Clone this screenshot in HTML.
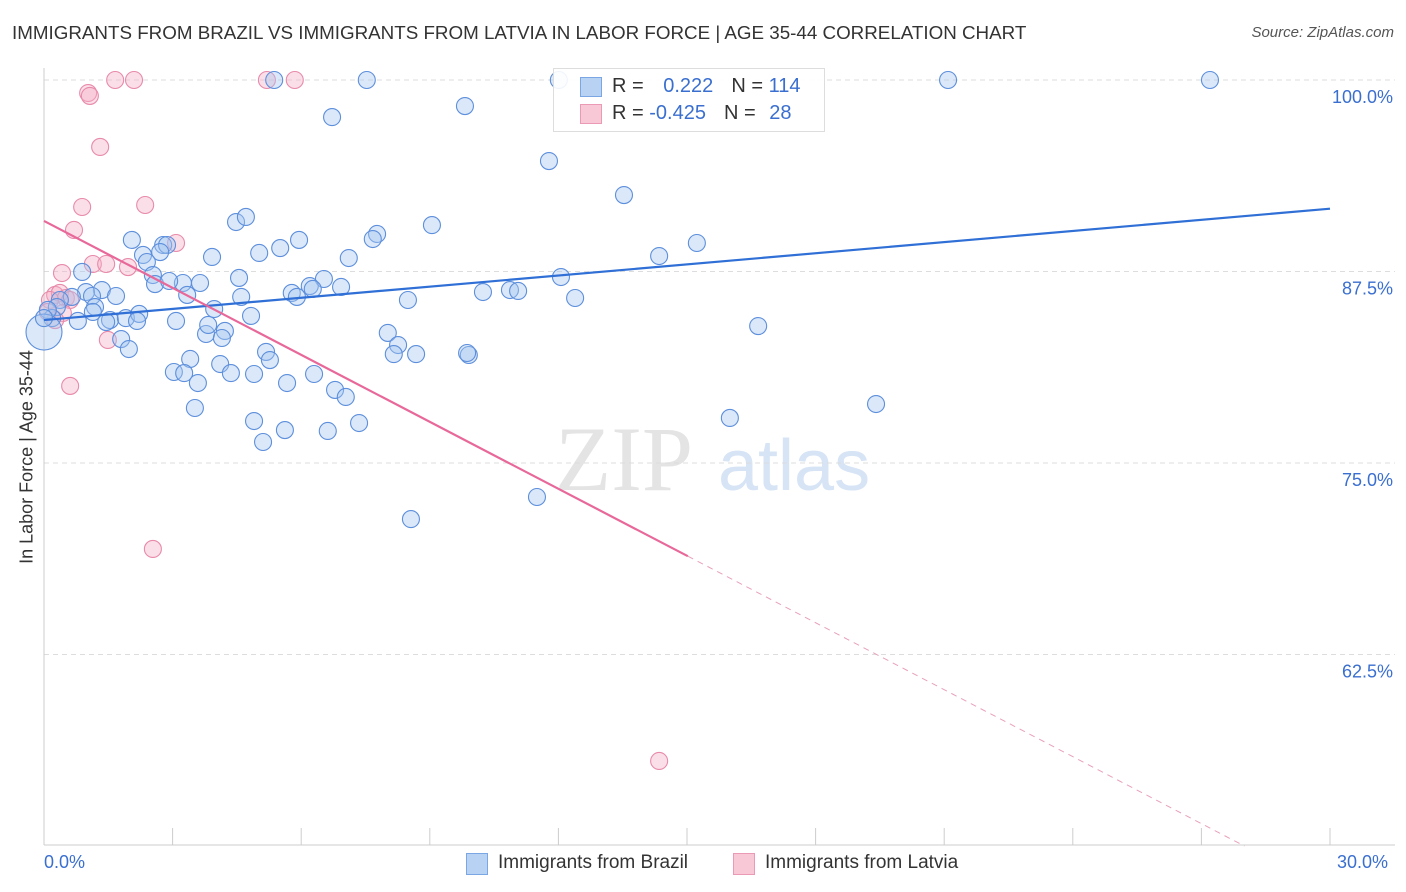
<!DOCTYPE html>
<html><head><meta charset="utf-8">
<style>
body{margin:0;background:#fff;font-family:"Liberation Sans",sans-serif;}
#wrap{position:relative;width:1406px;height:892px;overflow:hidden;}
.t{position:absolute;white-space:nowrap;}
</style></head><body>
<div id="wrap">
<div class="t" style="left:12px;top:22px;font-size:18.8px;color:#333;">IMMIGRANTS FROM BRAZIL VS IMMIGRANTS FROM LATVIA IN LABOR FORCE | AGE 35-44 CORRELATION CHART</div>
<div class="t" style="right:12px;top:24px;font-size:15px;color:#555;font-style:italic;">Source: ZipAtlas.com</div>
<div class="t" style="left:27px;top:457px;font-size:18px;color:#333;transform:translate(-50%,-50%) rotate(-90deg);">In Labor Force | Age 35-44</div>
<svg id="svg" width="1406" height="892" style="position:absolute;left:0;top:0"></svg>
<div class="t" style="left:553px;top:68px;width:270px;height:62px;border:1px solid #ddd;background:rgba(255,255,255,0.9);">
 <div style="position:absolute;left:26px;top:8px;width:20px;height:18px;background:#b8d2f4;border:1px solid #7aa6e4;"></div>
 <div style="position:absolute;left:26px;top:35px;width:20px;height:18px;background:#f9c8d6;border:1px solid #ea9ab4;"></div>
 <div class="t" style="left:58px;top:6px;font-size:20px;color:#333">R = <span style="color:#3a6fd0;margin-left:14px">0.222</span><span style="margin-left:18px">N = </span><span style="color:#3a6fd0">114</span></div>
 <div class="t" style="left:58px;top:33px;font-size:20px;color:#333">R = <span style="color:#3a6fd0">-0.425</span><span style="margin-left:18px">N = </span><span style="color:#3a6fd0;margin-left:8px">28</span></div>
</div>
<div class="t" style="left:44px;top:852px;font-size:18px;color:#3a6fd0">0.0%</div>
<div class="t" style="left:1337px;top:852px;font-size:18px;color:#3a6fd0">30.0%</div>
<div class="t" style="left:466px;top:853px;width:20px;height:20px;background:#b8d2f4;border:1px solid #7aa6e4"></div>
<div class="t" style="left:498px;top:852px;font-size:19px;color:#333">Immigrants from Brazil</div>
<div class="t" style="left:733px;top:853px;width:20px;height:20px;background:#f9c8d6;border:1px solid #ea9ab4"></div>
<div class="t" style="left:765px;top:852px;font-size:19px;color:#333">Immigrants from Latvia</div>
</div>
<script>
const blueX=[12.01,7.53,5.37,21.09,27.2,9.82,6.72,11.78,13.53,9.05,4.48,4.71,7.77,7.67,5.95,5.51,5.02,2.05,2.78,2.87,2.71,2.31,2.4,3.92,7.11,15.23,14.35,12.06,6.53,4.55,3.64,3.24,2.54,2.59,2.92,0.89,1.35,0.98,0.65,6.2,6.27,6.93,5.78,5.9,4.6,3.34,1.68,1.12,0.37,0.3,1.19,10.24,10.87,11.06,12.39,8.49,3.97,4.83,1.14,1.54,1.91,2.22,2.17,1.45,0.79,3.08,0.19,0.09,4.22,3.78,3.83,4.15,16.66,8.02,1.8,1.98,8.26,8.16,8.68,9.91,9.87,5.18,5.27,3.41,4.11,3.03,3.27,4.36,4.9,6.3,3.59,5.67,6.79,7.04,3.52,19.41,16.0,4.9,7.35,5.62,6.62,5.11,11.5,8.56,0,0];
const blueY=[100,100,100,100,100,98.3,97.58,94.71,92.49,90.53,90.73,91.06,89.95,89.62,89.56,89.03,88.71,89.56,89.23,89.23,88.77,88.58,88.12,88.45,88.38,89.36,88.51,87.14,87.01,87.08,86.75,86.75,87.27,86.68,86.88,87.47,86.29,86.16,85.84,86.55,86.36,86.49,86.1,85.84,85.84,85.97,85.9,85.9,85.64,85.18,85.18,86.16,86.29,86.23,85.77,85.64,85.05,84.6,84.86,84.33,84.46,84.73,84.27,84.2,84.27,84.27,84.46,84.99,83.62,83.42,84.01,83.16,83.94,83.49,83.09,82.44,82.7,82.11,82.11,82.05,82.18,82.25,81.72,81.79,81.46,80.94,80.87,80.87,80.81,80.81,80.22,80.22,79.77,79.31,78.59,78.85,77.94,77.74,77.61,77.15,77.09,76.37,72.78,71.34,83.55,84.46];
const pinkX=[1.66,2.1,5.2,5.85,1.03,1.07,1.31,2.36,0.89,0.7,3.08,1.14,1.45,1.96,0.42,0.26,0.37,0.51,0.14,0.61,0.09,0.44,1.49,0.61,2.54,14.35,0.26];
const pinkY=[100,100,100,100,99.15,98.96,95.63,91.84,91.71,90.21,89.36,87.99,87.99,87.79,87.4,85.97,86.1,85.77,85.64,85.64,84.86,84.79,83.03,80.03,69.39,55.55,84.33];
const blueTrend=[84.33,91.6];
const pinkTrend=[90.8,-1.457];
const yTicks=[100,87.5,75,62.5];
const yTickLabels=["100.0%","87.5%","75.0%","62.5%"];
const xTicks=[0,3,6,9,12,15,18,21,24,27,30];
const X=v=>44+v*1286/30, Y=v=>80+(100-v)*191.5/12.5;
const svg=document.getElementById('svg');const NS='http://www.w3.org/2000/svg';
function mk(tag,attrs,name){const e=document.createElementNS(NS,tag);for(const k in attrs)e.setAttribute(k,attrs[k]);


svg.appendChild(e);return e;}
const wm=mk('text',{x:555,y:490,'font-size':92,'font-family':'Liberation Serif,serif',fill:'#e4e4e4'},'watermark-zip');wm.textContent='ZIP';
const wm2=mk('text',{x:718,y:490,'font-size':72,'font-family':'Liberation Sans,sans-serif',fill:'#d6e4f6'},'watermark-atlas');wm2.textContent='atlas';
yTicks.forEach((v,i)=>{mk('line',{x1:44,x2:1395,y1:Y(v),y2:Y(v),stroke:'#ddd','stroke-dasharray':'5,4'},'gridline');
const t=mk('text',{x:1393,y:Y(v)+23,'text-anchor':'end','font-size':18,fill:'#3a6fd0','font-family':'Liberation Sans,sans-serif'},'y-tick-label');t.textContent=yTickLabels[i];});
mk('line',{x1:44,x2:44,y1:68,y2:845,stroke:'#ccc'},'y-axis');
mk('line',{x1:44,x2:1395,y1:845,y2:845,stroke:'#ccc'},'x-axis');
xTicks.forEach(v=>mk('line',{x1:X(v),x2:X(v),y1:828,y2:845,stroke:'#ccc'},'x-tick'));
const circ=(x,y,r,f,s,n)=>mk('circle',{cx:X(x),cy:Y(y),r:r,fill:f,'fill-opacity':0.4,stroke:s,'stroke-width':1.1},n);
pinkX.forEach((x,i)=>circ(x,pinkY[i],8.5,'#f4b0c6','#e88aab','latvia-point'));
blueX.forEach((x,i)=>circ(x,blueY[i],i==blueX.length-2?18:8.5,'#a6c6f0','#5d8fdc','brazil-point'));
mk('line',{x1:X(0),y1:Y(blueTrend[0]),x2:X(30),y2:Y(blueTrend[1]),stroke:'#2f6fd6','stroke-width':2.2},'brazil-trendline');
const pe=15.02;
mk('line',{x1:X(0),y1:Y(pinkTrend[0]),x2:X(pe),y2:Y(pinkTrend[0]+pinkTrend[1]*pe),stroke:'#e8689a','stroke-width':2.2},'latvia-trendline');
const xe=(50-pinkTrend[0])/pinkTrend[1];
mk('line',{x1:X(pe),y1:Y(pinkTrend[0]+pinkTrend[1]*pe),x2:X(xe),y2:Y(50),stroke:'#e8a0bc','stroke-width':1,'stroke-dasharray':'6,5'},'latvia-trendline-extension');
</script>
</body></html>
